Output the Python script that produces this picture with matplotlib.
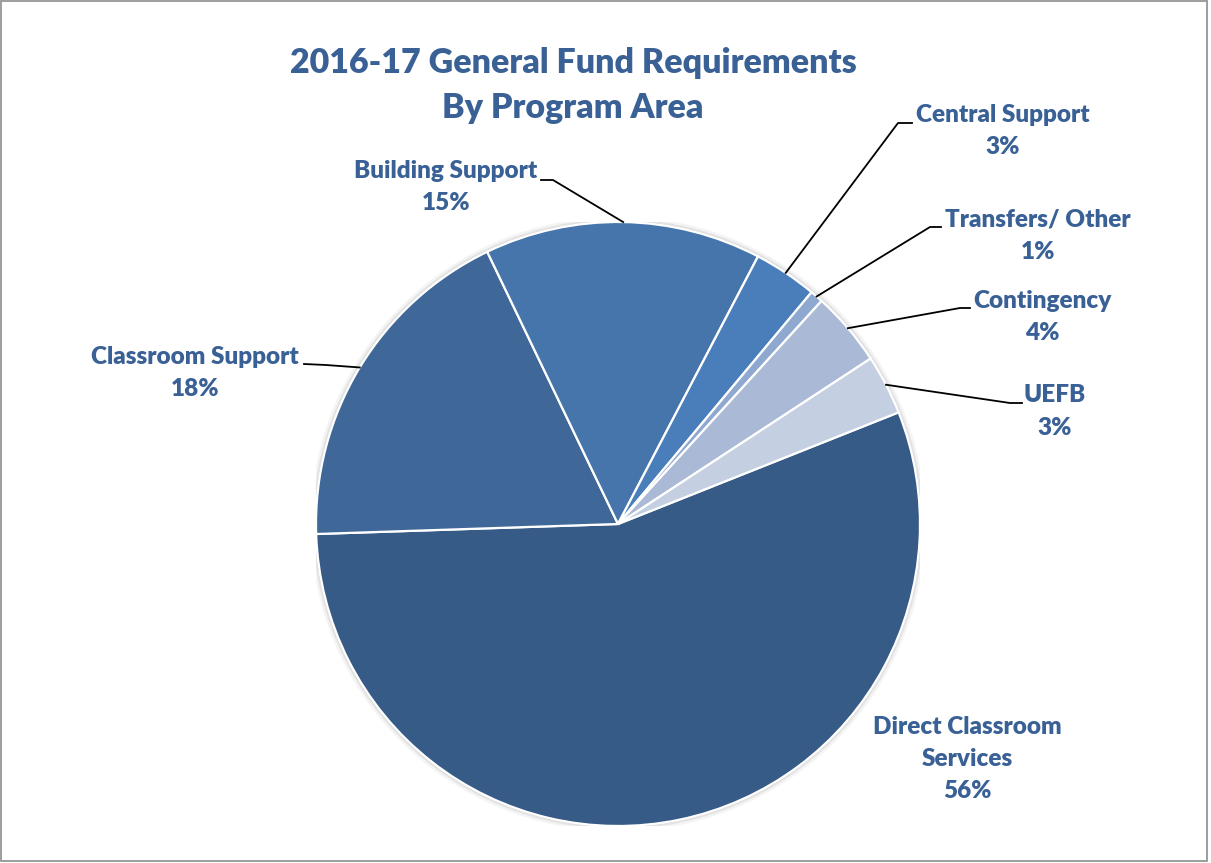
import numpy as np
import matplotlib
matplotlib.use("Agg")
import matplotlib.pyplot as plt
from matplotlib.patches import Circle, Rectangle

# ---- data ----
categories = ["Direct Classroom\nServices", "Classroom Support", "Building Support",
              "Central Support", "Transfers/ Other", "Contingency", "UEFB"]
values = [55.5, 18.4, 14.8, 3.4, 0.7, 4.0, 3.2]
pct_labels = ["56%", "18%", "15%", "3%", "1%", "4%", "3%"]
colors = ["#375B87", "#3F6899", "#4675AB", "#4A7EBA", "#8FA8D0", "#AAB9D6", "#C4CFE2"]
title = "2016-17 General Fund Requirements\nBy Program Area"

W, H = 1211, 863
fig = plt.figure(figsize=(W / 100, H / 100), dpi=100)
fig.patch.set_facecolor("white")

cx, cy, R = 618, 524, 302
ax = fig.add_axes([(cx - R) / W, (H - cy - R) / H, 2 * R / W, 2 * R / H])

# soft shadow halo
for r, a in [(1.018, 0.10), (1.010, 0.18), (1.004, 0.25)]:
    ax.add_patch(Circle((0, 0), r, color="#9A9A9A", alpha=a, lw=0, zorder=0))

wedges, _ = ax.pie(values, colors=colors, startangle=21.7, counterclock=False,
                   radius=1, wedgeprops=dict(edgecolor="white", linewidth=1.6))
ax.set_xlim(-1, 1)
ax.set_ylim(-1, 1)
ax.set_aspect("equal")
ax.axis("off")

txt_color = "#3A6196"
font = "Lato"
wt = "heavy"

def px(x, y):
    return (x - cx) / R, (cy - y) / R

# label layout (pixel positions): center of text block, leader elbow points
layout = {
    0: dict(pos=(967, 759), leader=None),
    1: dict(pos=(195, 373), leader=[(304, 364), (326, 365)]),
    2: dict(pos=(446, 187), leader=[(541, 180), (553, 180)]),
    3: dict(pos=(1003, 131), leader=[(912, 123), (898, 123)]),
    4: dict(pos=(1038, 235.5), leader=[(941, 227), (930, 227)]),
    5: dict(pos=(1042, 317), leader=[(970, 308), (960, 308)]),
    6: dict(pos=(1055, 411.5), leader=[(1022, 403), (1010, 403)]),
}

for i, w in enumerate(wedges):
    lay = layout[i]
    x, y = lay["pos"]
    fig.text(x / W, 1 - y / H, categories[i] + "\n" + pct_labels[i],
             ha="center", va="center", color=txt_color, fontsize=17.5,
             fontweight=wt, family=font, linespacing=1.56)
    if lay["leader"]:
        ang = np.deg2rad((w.theta1 + w.theta2) / 2)
        ex, ey = np.cos(ang), np.sin(ang)
        pts = [px(*p) for p in lay["leader"]] + [(ex, ey)]
        ax.plot([p[0] for p in pts], [p[1] for p in pts], color="black",
                lw=1.3, clip_on=False, zorder=5)

fig.text(573 / W, 1 - 85.5 / H, title, ha="center", va="center",
         color=txt_color, fontsize=24.5, fontweight=wt, family=font,
         linespacing=1.53)

# outer border
fig.add_artist(Rectangle((0.5 / W, 2.5 / H), (W - 5) / W, (H - 4) / H,
                         transform=fig.transFigure, fill=False,
                         edgecolor="#8C8C8C", lw=1.2))

fig.savefig("out.png", dpi=100, facecolor="white")
